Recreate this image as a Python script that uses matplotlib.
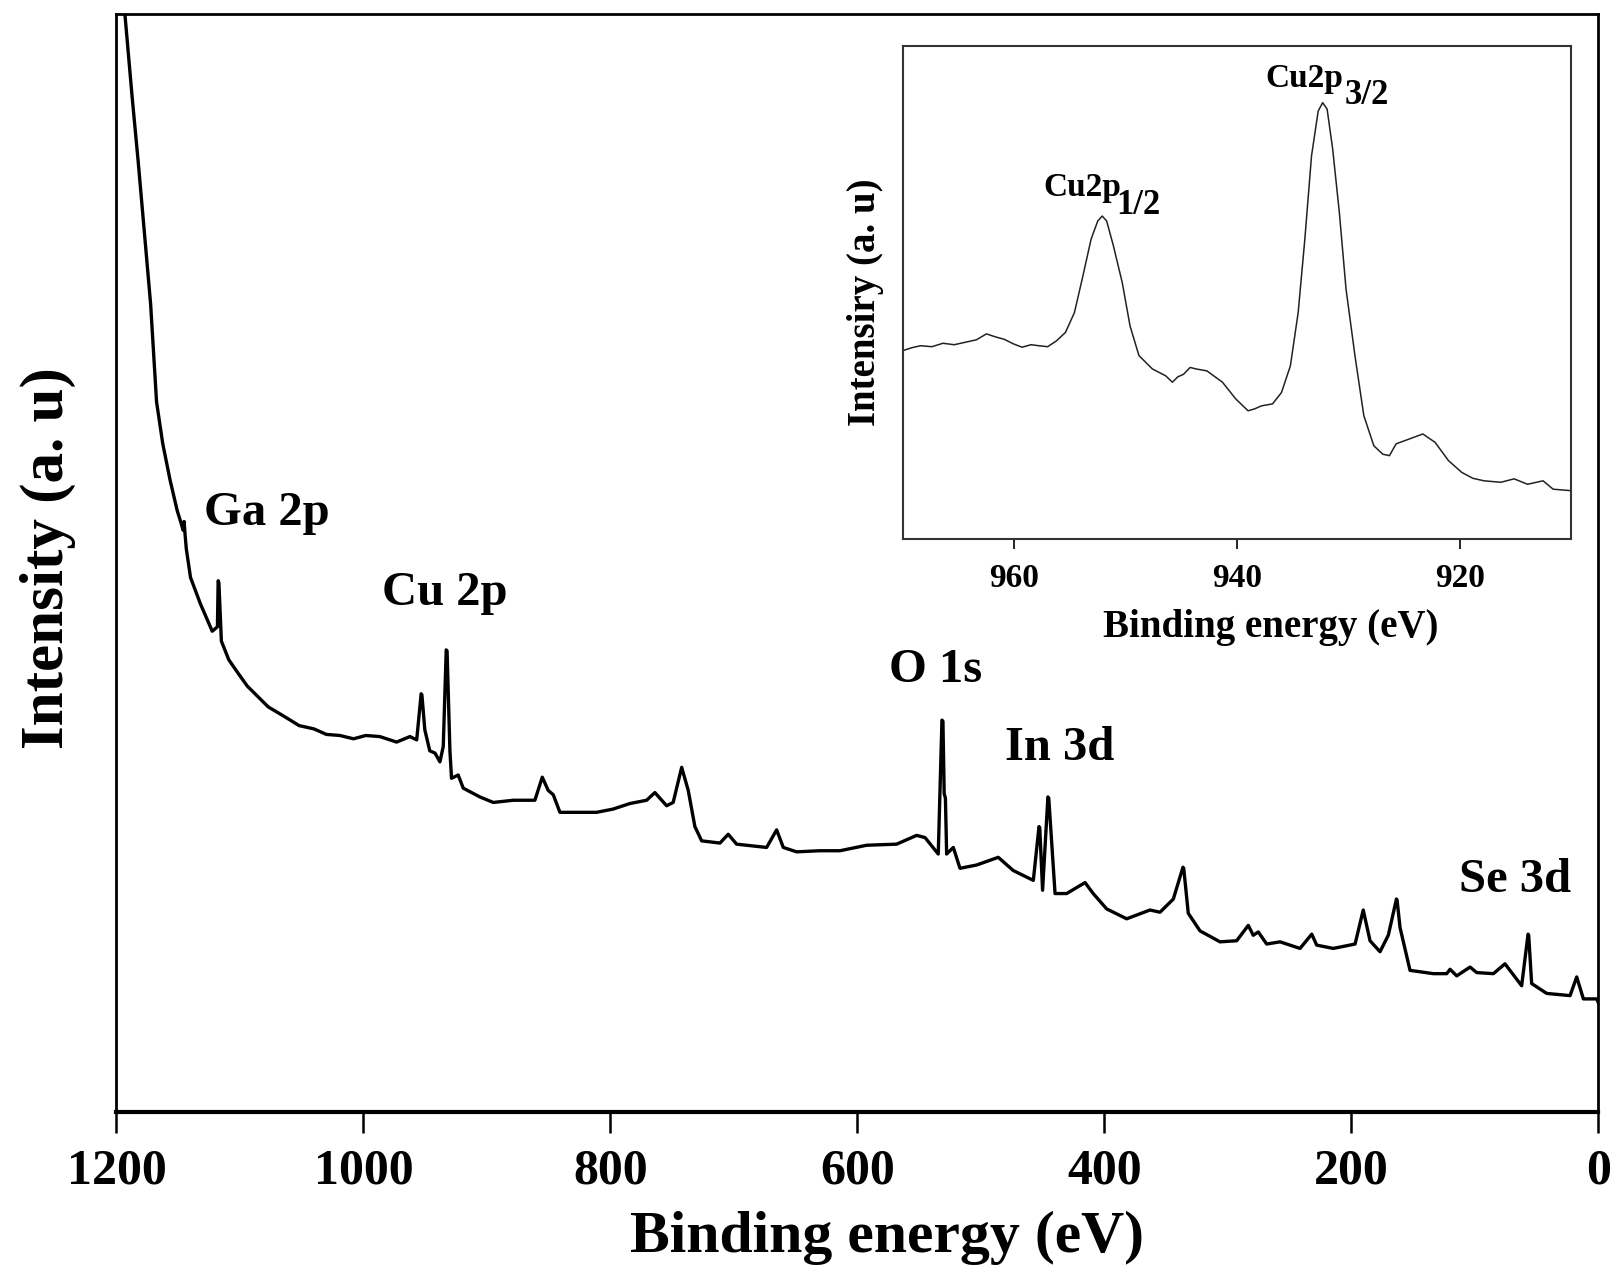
import matplotlib
matplotlib.use("Agg")
import matplotlib.pyplot as plt

plt.rcParams['font.family'] = ['Liberation Serif', 'DejaVu Serif']
plt.rcParams['font.weight'] = 'bold'

# ---- Survey spectrum (binding energy eV, intensity a.u.) ----
survey_be = [1193.5, 1187.3, 1182.3, 1177.3, 1172.3, 1167.5, 1162.5, 1156.6, 1150.8, 1147.5, 1146.0, 1145.2,
             1144.4, 1143.4, 1140.0, 1132.0, 1122.4, 1118.2, 1117.6, 1117.0, 1115.0, 1109, 1101, 1094, 1086,
             1077, 1065, 1052, 1040, 1030, 1019, 1008, 998, 986.6, 973.1, 962.3, 956.8, 953.2, 952.6,
             950.2, 946.2, 942.0, 938.0, 935.3, 932.9, 932.2, 929.9, 928.6, 923.2, 919.1, 905.6, 894.8,
             878.6, 861.1, 855.1, 850.3, 846.2, 840.8, 824.6, 811.1, 797.6, 784.2, 770.6, 763.9, 754.4,
             749.1, 742.2, 736.9, 731.5, 726.0, 711.2, 704.5, 697.7, 673.4, 665.3, 659.9, 649.1, 630.3,
             614.0, 592.4, 568.1, 551.9, 545.1, 534.4, 531.4, 530.6, 529.6, 528.6, 527.6, 522.2, 516.8,
             503.3, 485.8, 473.7, 457.4, 452.8, 452.2, 449.9, 445.6, 444.9, 439.8, 430.4, 415.5, 408.9,
             398.0, 381.8, 362.9, 354.8, 344.0, 336.2, 335.6, 331.9, 322.4, 306.2, 292.7, 283.3, 279.3,
             275.2, 268.4, 257.6, 241.4, 231.9, 227.9, 214.5, 196.8, 190.2, 184.7, 176.6, 169.9, 163.3,
             162.8, 160.4, 152.3, 133.4, 122.6, 119.9, 114.5, 103.7, 98.3, 84.8, 75.4, 61.9, 56.7, 56.2,
             53.8, 41.6, 22.7, 17.3, 11.9, 1.1, 0]
survey_int = [100.5, 92.5, 86.5, 80.0, 73.6, 64.7, 60.9, 57.6, 54.8, 53.6, 53.0, 53.8,
              52.6, 51.3, 48.7, 46.3, 43.8, 44.2, 48.4, 48.2, 42.9, 41.2, 39.9, 38.8, 37.9,
              36.9, 36.1, 35.2, 34.9, 34.4, 34.3, 34.0, 34.3, 34.2, 33.7, 34.2, 33.9, 38.1, 38.0,
              34.8, 32.9, 32.7, 31.9, 33.3, 42.1, 42.0, 32.9, 30.4, 30.7, 29.5, 28.7, 28.2,
              28.4, 28.4, 30.5, 29.3, 28.9, 27.3, 27.3, 27.3, 27.6, 28.1, 28.4, 29.1, 27.9,
              28.2, 31.4, 29.3, 26.0, 24.7, 24.5, 25.3, 24.4, 24.1, 25.7, 24.1, 23.7, 23.8,
              23.8, 24.3, 24.4, 25.2, 25.0, 23.5, 35.7, 35.6, 29.0, 28.6, 23.5, 24.1, 22.2,
              22.5, 23.2, 22.0, 21.1, 26.0, 25.9, 20.2, 28.7, 28.6, 19.9, 19.9, 20.9, 19.9,
              18.5, 17.6, 18.4, 18.2, 19.4, 22.3, 22.2, 18.1, 16.5, 15.5, 15.6, 17.0, 16.1,
              16.4, 15.3, 15.5, 14.9, 16.2, 15.2, 14.9, 15.3, 18.4, 15.6, 14.6, 16.1, 19.4,
              19.3, 16.8, 12.9, 12.6, 12.6, 13.0, 12.4, 13.2, 12.7, 12.6, 13.5, 11.5, 16.2, 16.1,
              11.7, 10.8, 10.6, 12.3, 10.3, 10.3, 10.0]

# ---- Inset: Cu 2p high-resolution ----
inset_be = [970, 969.2, 968.4, 967.4, 966.4, 965.4, 964.4, 963.4, 962.5, 961.7, 960.9, 960.1, 959.3,
            958.5, 957.8, 957.0, 956.2, 955.4, 954.6, 953.9, 953.1, 952.5, 952.1, 951.7, 951.1, 950.3,
            949.6, 948.8, 947.6, 946.4, 945.8, 945.3, 944.8, 944.2, 943.7, 942.7, 941.3, 940.1, 939.0,
            938.4, 937.8, 936.8, 936.0, 935.2, 934.5, 933.9, 933.3, 932.7, 932.3, 931.9, 931.4, 930.8,
            930.2, 929.4, 928.6, 927.7, 926.9, 926.3, 925.7, 924.5, 923.3, 922.2, 921.0, 919.8, 918.8,
            917.8, 916.3, 915.1, 913.9, 912.5, 911.6, 910]
inset_int = [38.2, 38.8, 39.2, 39.0, 39.7, 39.4, 39.9, 40.4, 41.6, 41.0, 40.5, 39.6, 38.9,
             39.4, 39.2, 39.0, 40.2, 41.9, 45.9, 52.7, 60.8, 64.5, 65.5, 64.5, 59.5, 52.0,
             43.2, 37.2, 34.5, 33.1, 31.8, 32.9, 33.4, 34.8, 34.5, 34.1, 31.8, 28.4, 26.0,
             26.4, 27.0, 27.4, 29.7, 35.1, 45.9, 60.8, 77.7, 86.8, 88.5, 87.2, 79.1, 66.2,
             50.7, 37.2, 25.0, 18.9, 17.2, 16.9, 19.3, 20.3, 21.3, 19.6, 15.9, 13.5, 12.3,
             11.8, 11.5, 12.2, 11.1, 11.8, 10.1, 9.8]

main_ticks = [1200, 1000, 800, 600, 400, 200, 0]
inset_ticks = [960, 940, 920]
peak_labels = ["Ga 2p", "Cu 2p", "O 1s", "In 3d", "Se 3d"]
peak_label_be = [1129, 985, 574, 480, 113]
peak_label_int = [54.6, 47.3, 40.3, 33.2, 21.1]
inset_main_labels = ["Cu2p", "Cu2p"]
inset_main_be = [957.4, 937.4]
inset_main_int = [71.3, 93.4]
inset_sub_labels = ["1/2", "3/2"]
inset_sub_be = [950.8, 930.3]
inset_sub_int = [67.6, 89.9]

fig = plt.figure(figsize=(16.17, 12.73), dpi=100)
ax = fig.add_axes([0.0720, 0.1265, 0.9163, 0.8622])
ax.plot(survey_be, survey_int, color='black', lw=2.4, solid_joinstyle='round')
ax.set_xlim(1200, 0)
ax.set_ylim(0, 100)
ax.set_xticks(main_ticks)
ax.set_xticklabels([str(t) for t in main_ticks])
ax.set_yticks([])
ax.tick_params(axis='x', direction='out', length=15, width=1.8, labelsize=36, pad=11)
for s in ax.spines.values():
    s.set_linewidth(2.0)
ax.spines['bottom'].set_linewidth(3.0)
ax.set_xlabel("Binding energy (eV)", fontsize=43, fontweight='bold')
ax.xaxis.set_label_coords(0.52, -0.090)
ax.set_ylabel("Intensity (a. u)", fontsize=44, fontweight='bold')
ax.yaxis.set_label_coords(-0.027, 0.505)
for lab, xb, yi in zip(peak_labels, peak_label_be, peak_label_int):
    ax.text(xb, yi, lab, fontsize=35, fontweight='bold', ha='left', va='center')

# inset
axi = fig.add_axes([0.5584, 0.5766, 0.4131, 0.3873])
axi.plot(inset_be, inset_int, color='#222222', lw=1.1)
axi.set_xlim(970, 910)
axi.set_ylim(0, 100)
axi.set_xticks(inset_ticks)
axi.set_yticks([])
axi.tick_params(axis='x', direction='out', length=7, width=1.2, labelsize=24, pad=10)
for s in axi.spines.values():
    s.set_linewidth(1.5)
    s.set_color('#333333')
axi.set_xlabel("Binding energy (eV)", fontsize=28, fontweight='bold')
axi.xaxis.set_label_coords(0.551, -0.143)
axi.set_ylabel("Intensiry (a. u)", fontsize=28, fontweight='bold')
axi.yaxis.set_label_coords(-0.028, 0.48)
for lab, xb, yi in zip(inset_main_labels, inset_main_be, inset_main_int):
    axi.text(xb, yi, lab, fontsize=24, fontweight='bold', ha='left', va='center')
for lab, xb, yi in zip(inset_sub_labels, inset_sub_be, inset_sub_int):
    axi.text(xb, yi, lab, fontsize=25, fontweight='bold', ha='left', va='center')

fig.savefig("out.png", dpi=100, facecolor='white')
